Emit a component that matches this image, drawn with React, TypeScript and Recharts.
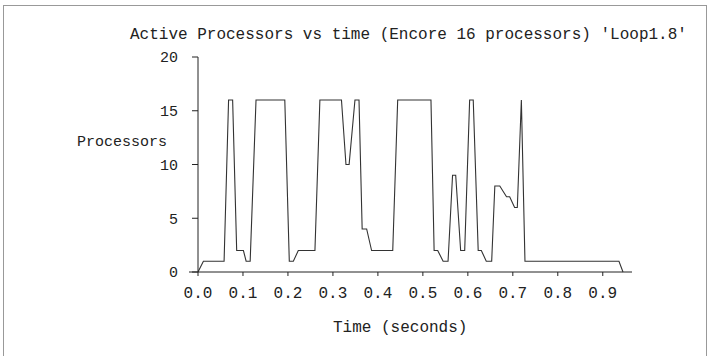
import React from 'react';
import { LineChart, Line, XAxis, YAxis, ReferenceLine } from 'recharts';

// time (s) and active processor count
const times = [
  0, 0.012, 0.058, 0.068, 0.077, 0.086, 0.101, 0.107, 0.116, 0.129,
  0.193, 0.203, 0.212, 0.223, 0.26, 0.271, 0.319, 0.329, 0.336, 0.349,
  0.358, 0.365, 0.375, 0.386, 0.433, 0.444, 0.518, 0.525, 0.533, 0.545,
  0.556, 0.566, 0.573, 0.584, 0.593, 0.604, 0.612, 0.623, 0.63, 0.641,
  0.653, 0.66, 0.671, 0.686, 0.693, 0.704, 0.71, 0.719, 0.727, 0.936,
  0.945
];
const processors = [
  0, 1, 1, 16, 16, 2, 2, 1, 1, 16,
  16, 1, 1, 2, 2, 16, 16, 10, 10, 16,
  16, 4, 4, 2, 2, 16, 16, 2, 2, 1,
  1, 9, 9, 2, 2, 16, 16, 2, 2, 1,
  1, 8, 8, 7, 7, 6, 6, 16, 1, 1,
  0
];
const xTicks = [0, 0.1, 0.2, 0.3, 0.4, 0.5, 0.6, 0.7, 0.8, 0.9];
const yTicks = [0, 5, 10, 15, 20];

const data = times.map((t, i) => ({ t, p: processors[i] }));

const mono = '"Liberation Mono", "DejaVu Sans Mono", monospace';
const ink = '#222';

export default function App() {
  return (
    <div style={{ position: 'absolute', left: 0, top: 0, width: 709, height: 356, background: '#fff', fontFamily: mono, color: ink }}>
      {/* scanned page border */}
      <div style={{ position: 'absolute', left: 3, top: 5, width: 702, height: 360, border: '1px solid #999', borderBottom: 'none' }} />

      <div style={{ position: 'absolute', left: 130, top: 26, fontSize: 16, whiteSpace: 'pre' }}>
        Active Processors vs time (Encore 16 processors) 'Loop1.8'
      </div>
      <div style={{ position: 'absolute', left: 77, top: 134, fontSize: 15 }}>Processors</div>
      <div style={{ position: 'absolute', left: 333, top: 319, fontSize: 16, whiteSpace: 'pre' }}>Time (seconds)</div>

      <div style={{ position: 'absolute', left: 0, top: 0 }}>
        <LineChart width={709} height={356} data={data} margin={{ top: 57, right: 77, bottom: 54, left: 158 }}>
          <XAxis
            dataKey="t"
            type="number"
            domain={[0, 0.965]}
            ticks={xTicks}
            tickFormatter={(v: number) => v.toFixed(1)}
            tickSize={4}
            tickMargin={11}
            height={30}
            stroke={ink}
            tick={{ fill: ink, fontSize: 16, fontFamily: mono }}
            allowDataOverflow
          />
          <YAxis
            type="number"
            domain={[0, 20]}
            ticks={yTicks}
            width={40}
            tickSize={6}
            tickMargin={14}
            stroke={ink}
            tick={{ fill: ink, fontSize: 15, fontFamily: mono }}
          />
          <ReferenceLine
            segment={[{ x: -0.02, y: 0 }, { x: 0, y: 0 }]}
            stroke={ink}
            ifOverflow="visible"
          />
          <Line
            type="linear"
            dataKey="p"
            stroke="#333"
            strokeWidth={1.1}
            dot={false}
            isAnimationActive={false}
          />
        </LineChart>
      </div>
    </div>
  );
}
